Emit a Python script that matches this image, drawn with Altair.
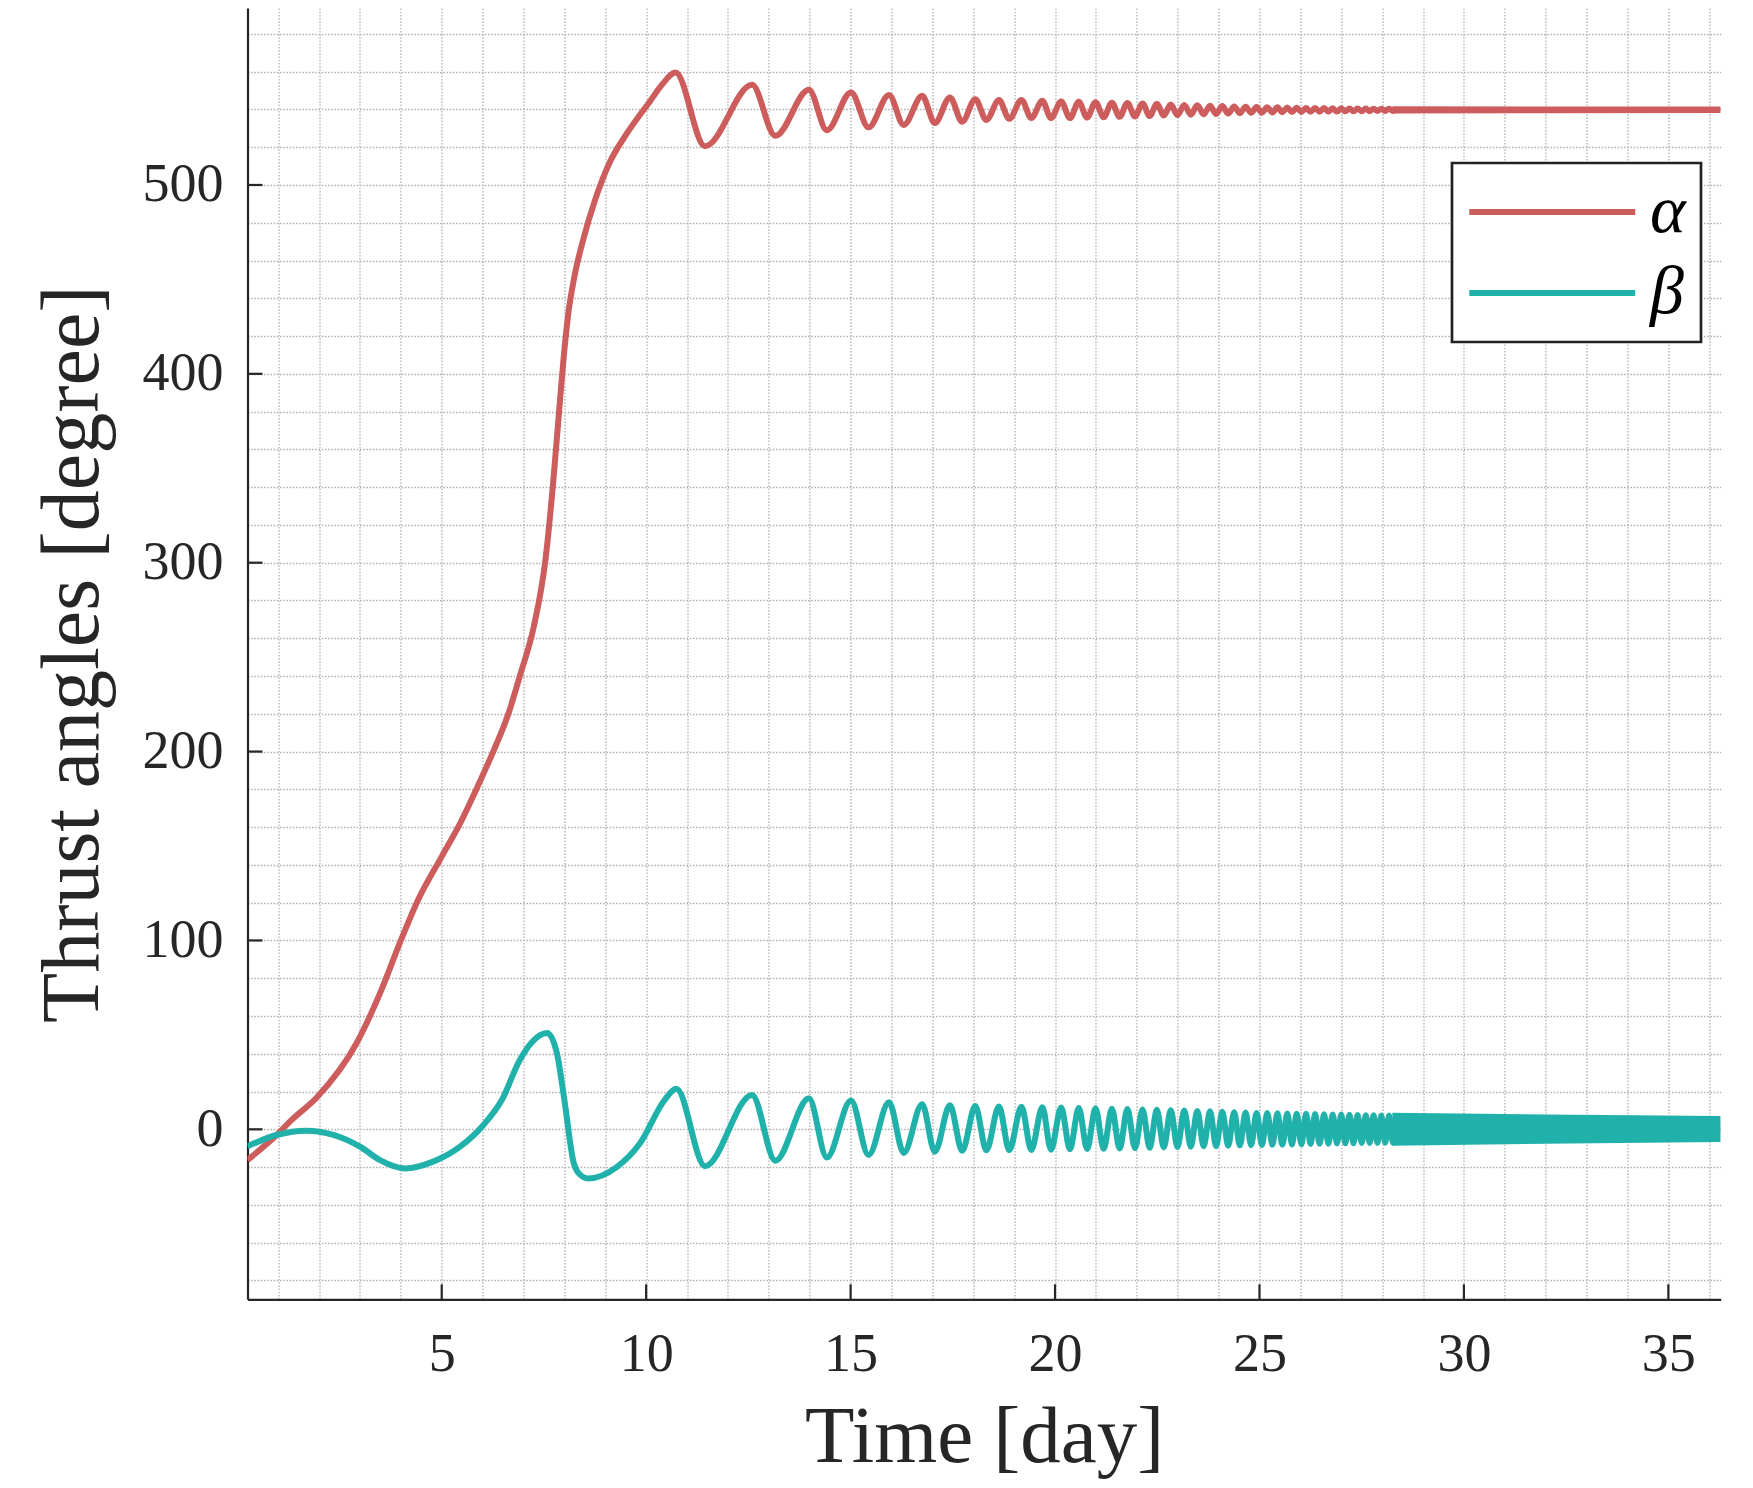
import altair as alt
import pandas as pd

# ---------------- data ----------------
series_names = ["α", "β"]
series_colors = ["#CD5C5C", "#20B2AA"]

# alpha: initial climb (day, degree)
alpha_early_t = [0.25, 0.96, 1.33, 1.95, 2.92, 3.49, 4.0, 4.39, 5.0, 5.45, 5.93, 6.26,
                 6.63, 6.91, 7.25, 7.54, 7.72, 7.87, 7.98, 8.09, 8.25, 8.46, 8.75, 9.11,
                 9.52, 10.1, 10.4, 10.72]
alpha_early_v = [-16.3, -3.0, 5.0, 17.0, 45.7, 72.0, 100.0, 120.0, 144.4, 162.0, 184.0, 200.0,
                 220.0, 240.0, 266.0, 302.0, 341.0, 380.0, 408.0, 431.0, 452.0, 471.0, 492.0, 512.0,
                 527.0, 544.5, 553.5, 559.5]

# beta: initial part (day, degree)
beta_early_t = [0.25, 0.96, 1.70, 2.35, 3.0, 3.49, 4.10, 4.79, 5.45, 6.02, 6.47, 6.91,
                7.2, 7.58, 7.82, 8.0, 8.22, 8.36, 8.58, 9.28, 9.85, 10.45, 10.74]
beta_early_v = [-9.0, -3.0, -0.7, -3.0, -9.2, -16.3, -20.7, -17.1, -9.2, 2.3, 15.5, 36.7,
                46.0, 51.0, 40.0, 15.5, -17.0, -23.5, -26.0, -20.0, -7.4, 15.5, 21.5]

# oscillation extrema shared by both angles (troughs / peaks), day 11.4 - 19.9
osc1_t = [11.44, 12.59, 13.16, 13.98, 14.42, 15.01, 15.44, 15.94, 16.30, 16.75, 17.06,
          17.43, 17.73, 18.05, 18.32, 18.63, 18.88, 19.18, 19.42, 19.69, 19.90]
beta_osc1 = [-19.5, 18.2, -16.6, 16.5, -14.9, 15.2, -13.6, 14.3, -12.5, 13.3, -11.9,
             12.7, -11.4, 12.4, -11.1, 12.1, -11.0, 11.9, -10.9, 11.7, -10.8]
alpha_osc1 = [520.5, 553.0, 526.0, 550.4, 529.0, 549.0, 530.5, 547.7, 531.8, 547.2, 532.8,
              546.3, 533.5, 545.4, 534.4, 545.0, 535.0, 545.0, 535.4, 544.6, 535.4]

# oscillation extrema, day 20.1 - 28.4: peak times / trough times
peak2_t = [20.15, 20.58, 20.99, 21.39, 21.77, 22.14, 22.49, 22.83, 23.16, 23.48, 23.79,
           24.09, 24.38, 24.66, 24.93, 25.19, 25.44, 25.68, 25.91, 26.14, 26.36, 26.58,
           26.79, 27.00, 27.20, 27.40, 27.60, 27.79, 27.98, 28.17, 28.36]
trough2_t = [20.365, 20.785, 21.19, 21.58, 21.955, 22.315, 22.66, 22.995, 23.32, 23.635,
             23.94, 24.235, 24.52, 24.795, 25.06, 25.315, 25.56, 25.795, 26.025, 26.25,
             26.47, 26.685, 26.895, 27.10, 27.30, 27.50, 27.695, 27.885, 28.075, 28.265]
beta_peak2 = [11.5, 11.3, 11.1, 10.9, 10.7, 10.5, 10.3, 10.1, 9.9, 9.7, 9.5, 9.3, 9.1, 8.9,
              8.7, 8.6, 8.5, 8.4, 8.3, 8.2, 8.1, 8.0, 7.9, 7.8, 7.7, 7.6, 7.5, 7.4, 7.3, 7.3, 7.2]
beta_trough2 = [-10.6, -10.4, -10.3, -10.2, -10.0, -9.8, -9.6, -9.4, -9.2, -9.0, -8.9, -8.7,
                -8.5, -8.4, -8.3, -8.2, -8.1, -8.0, -7.9, -7.8, -7.7, -7.6, -7.5, -7.4, -7.4,
                -7.3, -7.2, -7.2, -7.1, -7.1]
alpha_peak2 = [544.2, 544.0, 543.8, 543.6, 543.4, 543.2, 542.9, 542.6, 542.4, 542.2, 542.0,
               541.8, 541.6, 541.4, 541.3, 541.2, 541.1, 541.0, 540.9, 540.8, 540.7, 540.7,
               540.6, 540.6, 540.5, 540.5, 540.5, 540.4, 540.4, 540.4, 540.4]
alpha_trough2 = [535.4, 535.7, 535.9, 536.1, 536.3, 536.5, 536.8, 537.0, 537.2, 537.4, 537.6,
                 537.8, 538.0, 538.2, 538.3, 538.4, 538.5, 538.6, 538.7, 538.8, 538.8, 538.9,
                 538.9, 539.0, 539.0, 539.1, 539.1, 539.2, 539.2, 539.2]

# densely oscillating tail drawn as its visible envelope (edges of the solid band)
band_t = [28.25, 32.0, 36.28]
alpha_band_hi = [541.7, 541.6, 541.5]
alpha_band_lo = [537.9, 538.0, 538.1]
beta_band_hi = [8.8, 7.9, 7.1]
beta_band_lo = [-8.7, -7.6, -6.7]

# axes
x_grid_values = [1, 2, 3, 4, 5, 6, 7, 8, 9, 10, 11, 12, 13, 14, 15, 16, 17, 18, 19, 20,
                 21, 22, 23, 24, 25, 26, 27, 28, 29, 30, 31, 32, 33, 34, 35, 36]
y_grid_values = [-80, -60, -40, -20, 0, 20, 40, 60, 80, 100, 120, 140, 160, 180, 200, 220,
                 240, 260, 280, 300, 320, 340, 360, 380, 400, 420, 440, 460, 480, 500, 520,
                 540, 560, 580]
x_tick_values = [5, 10, 15, 20, 25, 30, 35]
y_tick_values = [0, 100, 200, 300, 400, 500]
x_domain = [0.25, 36.28]
y_domain = [-90, 593.7]

assert len(alpha_early_t) == len(alpha_early_v)
assert len(beta_early_t) == len(beta_early_v)
assert len(osc1_t) == len(beta_osc1) == len(alpha_osc1)
assert len(peak2_t) == len(beta_peak2) == len(alpha_peak2) == len(trough2_t) + 1
assert len(trough2_t) == len(beta_trough2) == len(alpha_trough2)


def alternate(peaks, troughs):
    out = []
    for i, p in enumerate(peaks):
        out.append(p)
        if i < len(troughs):
            out.append(troughs[i])
    return out


osc2_t = alternate(peak2_t, trough2_t)
beta_osc2 = alternate(beta_peak2, beta_trough2)
alpha_osc2 = alternate(alpha_peak2, alpha_trough2)

# ---------------- tables ----------------
a_t = alpha_early_t + osc1_t + osc2_t
a_v = alpha_early_v + alpha_osc1 + alpha_osc2
b_t = beta_early_t + osc1_t + osc2_t
b_v = beta_early_v + beta_osc1 + beta_osc2
lines_df = pd.DataFrame({
    "t": a_t + b_t,
    "v": a_v + b_v,
    "series": [series_names[0]] * len(a_t) + [series_names[1]] * len(b_t),
})
alpha_band_df = pd.DataFrame({"t": band_t, "hi": alpha_band_hi, "lo": alpha_band_lo})
beta_band_df = pd.DataFrame({"t": band_t, "hi": beta_band_hi, "lo": beta_band_lo})
xticks_df = pd.DataFrame({"t": x_tick_values})
yticks_df = pd.DataFrame({"v": y_tick_values})

# ---------------- styling ----------------
W, H = 1473.2, 1291.3
FONT = "Liberation Serif"
INK = "#262626"
GRID = "#b4b4b4"
LW = 6

xscale = alt.Scale(domain=x_domain, nice=False, zero=False)
yscale = alt.Scale(domain=y_domain, nice=False, zero=False)

xaxis = alt.Axis(
    values=x_grid_values,
    labelExpr="datum.value % 5 == 0 ? datum.label : ''",
    title="Time [day]", titleFont=FONT, titleFontSize=81, titleFontWeight="normal",
    titleColor=INK, titleBaseline="alphabetic", titleY=162,
    labelFont=FONT, labelFontSize=54, labelColor=INK, labelBaseline="alphabetic",
    labelPadding=71, labelOverlap=False, labelFlush=False,
    ticks=False, tickSize=0,
    grid=True, gridColor=GRID, gridDash=[1.6, 1.6], gridWidth=1.3,
    domainColor=INK, domainWidth=2.2,
)
yaxis = alt.Axis(
    values=y_grid_values,
    labelExpr="datum.value % 100 == 0 ? datum.label : ''",
    title="Thrust angles [degree]", titleFont=FONT, titleFontSize=82, titleFontWeight="normal",
    titleColor=INK, titleBaseline="alphabetic", titleAngle=270, titleX=-150,
    labelFont=FONT, labelFontSize=54, labelColor=INK, labelPadding=24.5,
    labelOverlap=False, labelFlush=False,
    ticks=False, tickSize=0,
    grid=True, gridColor=GRID, gridDash=[1.6, 1.6], gridWidth=1.3,
    domainColor=INK, domainWidth=2.2,
)

x_enc = alt.X("t:Q", scale=xscale, axis=xaxis)

lines = alt.Chart(lines_df).mark_line(strokeWidth=LW, interpolate="monotone", clip=True).encode(
    x=x_enc,
    y=alt.Y("v:Q", scale=yscale, axis=yaxis),
    color=alt.Color(
        "series:N",
        scale=alt.Scale(domain=series_names, range=series_colors),
        legend=alt.Legend(
            orient="none", legendX=1204.5, legendY=155, title=None,
            symbolType="M-1.53,0H6.47", symbolSize=1722, symbolStrokeWidth=LW, symbolOpacity=1,
            labelFont=FONT, labelFontSize=68, labelFontStyle="italic", labelColor="black",
            labelOffset=115, padding=15, rowPadding=13,
            strokeColor="#222222", fillColor="white",
        ),
    ),
    detail="series:N",
)

alpha_band = alt.Chart(alpha_band_df).mark_area(color=series_colors[0], opacity=1, clip=True).encode(
    x=x_enc, y=alt.Y("hi:Q", scale=yscale, axis=yaxis), y2="lo:Q"
)
beta_band = alt.Chart(beta_band_df).mark_area(color=series_colors[1], opacity=1, clip=True).encode(
    x=x_enc, y=alt.Y("hi:Q", scale=yscale, axis=yaxis), y2="lo:Q"
)

xticks = alt.Chart(xticks_df).mark_rule(color=INK, strokeWidth=2.2).encode(
    x=x_enc, y=alt.value(H), y2=alt.value(H - 15)
)
yticks = alt.Chart(yticks_df).mark_rule(color=INK, strokeWidth=2.2).encode(
    y=alt.Y("v:Q", scale=yscale, axis=yaxis), x=alt.value(0), x2=alt.value(15)
)

chart = alt.layer(alpha_band, beta_band, lines, xticks, yticks).properties(
    width=W, height=H,
    autosize=alt.AutoSizeParams(type="none"),
    padding={"left": 239.5, "top": 0, "right": 20, "bottom": 180},
    background="white",
).configure_view(stroke=None).configure_legend(strokeWidth=2.7)

chart.save("out.html", embed_options={"renderer": "svg", "actions": False})
